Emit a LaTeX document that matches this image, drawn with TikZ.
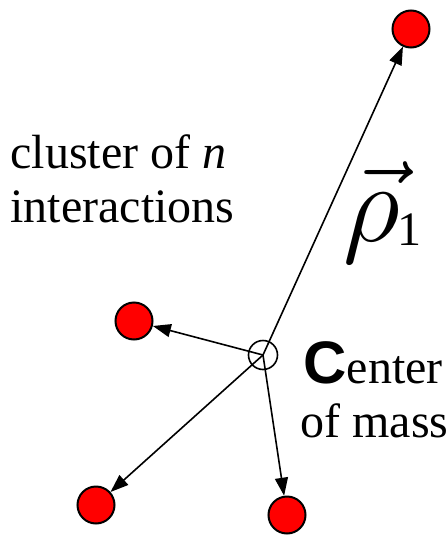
\documentclass[tikz,border=0pt]{standalone}
\usepackage{fix-cm}
\usepackage{fontspec}
\setmainfont{Liberation Serif}
\setsansfont{Liberation Sans}
\usetikzlibrary{arrows.meta}
\begin{document}
\begin{tikzpicture}[x=0.5pt,y=-0.5pt,
  particle/.style={circle,draw,line width=1pt,fill=red,minimum size=18.5pt,inner sep=0pt},
  cmass/.style={circle,draw,line width=0.8pt,minimum size=14.5pt,inner sep=0pt},
  vec/.style={line width=0.8pt,-{Triangle[length=9pt,width=6.5pt]}},
  lbl/.style={inner sep=0pt,font=\fontsize{24}{28}\selectfont}]
  \useasboundingbox (0,0) rectangle (446,536);
  \node[cmass] (cm) at (263,355) {};
  \node[particle] (p1) at (411,29) {};
  \node[particle] (p2) at (134,321) {};
  \node[particle] (p3) at (96,505) {};
  \node[particle] (p4) at (287,515) {};
  \draw[vec] (cm.center) -- (p1);
  \draw[vec] (cm.center) -- (p2);
  \draw[vec] (cm.center) -- (p3);
  \draw[vec] (cm.center) -- (p4);
  \node[lbl,anchor=base west] (cl1) at (10,168) {cluster of \textit{n}};
  \node[lbl,anchor=base west] (cl2) at (10,222) {interactions};
  \node[lbl,anchor=base west] (ctr) at (303,383) {{\sffamily\bfseries\fontsize{30}{36}\selectfont C}enter};
  \node[lbl,anchor=base west] (mass) at (300,437) {of mass};
  \node[lbl,anchor=base west] (rho) at (343,241) {{\fontsize{56}{60}\selectfont$\vec{\rho}$}\kern-1pt\raisebox{-2pt}{1}};
\end{tikzpicture}
\end{document}
